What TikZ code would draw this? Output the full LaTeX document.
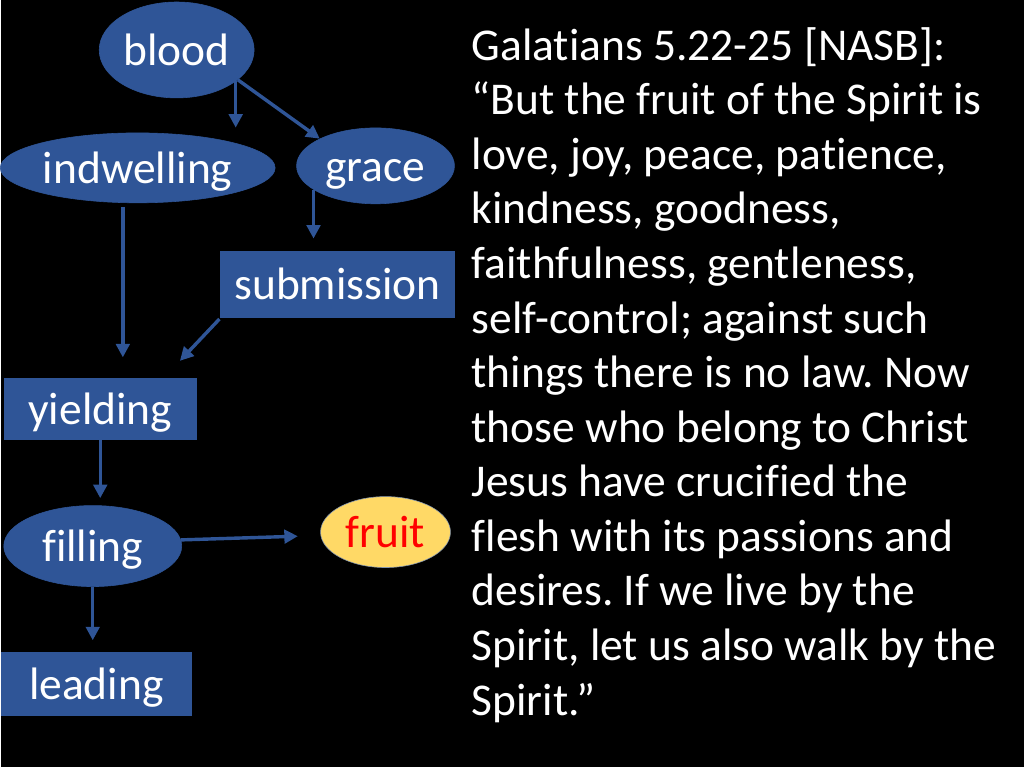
\documentclass[tikz,border=0pt]{standalone}
\usepackage{fontspec}
\setmainfont{Carlito}[Ligatures={TeX,NoCommon}, Contextuals=NoAlternate]
\usepackage{xcolor}
\usetikzlibrary{arrows.meta,shapes,calc,positioning}
\definecolor{nodeblue}{HTML}{2F5597}
\definecolor{fruitgold}{HTML}{FFD966}
\definecolor{fruitedge}{HTML}{8497B0}
\frenchspacing

\begin{document}
\begin{tikzpicture}[x=0.703125pt, y=-0.703125pt]
	\tikzstyle{every node}=[font=\fontsize{32}{38.4}\selectfont, text=white, inner sep=0pt]
	\tikzstyle{oval}=[ellipse, fill=nodeblue, draw=nodeblue, text height=28pt, text depth=6pt]
	\tikzstyle{box}=[rectangle, fill=nodeblue, draw=nodeblue, text height=28pt, text depth=6pt]
	\tikzstyle{link}=[line width=2.4pt, draw=nodeblue, -{Triangle[length=9.5pt, width=9.5pt]}]
	\fill [black] (0,0) rectangle (1024,768);
	% left side: the chain
	\node (blood) [oval, minimum width=109pt, minimum height=67.5pt] at (176,50) {blood};
	\node (indwelling) [oval, minimum width=193.4pt, minimum height=49.2pt] at (137,168) {indwelling};
	\node (grace) [oval, minimum width=111.1pt, minimum height=53.4pt] at (375,166) {grace};
	\node (submission) [box, minimum width=164.5pt, minimum height=47.1pt] at (337,284.5) {submission};
	\node (yielding) [box, minimum width=135.7pt, minimum height=42.9pt] at (99.5,409.5) {yielding};
	\node (filling) [oval, minimum width=125.2pt, minimum height=57pt] at (92,546.5) {filling};
	\node (fruit) [ellipse, fill=fruitgold, draw=fruitedge, text=red, text height=28pt, text depth=6pt, minimum width=91.4pt, minimum height=49.9pt] at (385,532.5) {fruit};
	\node (leading) [box, minimum width=134.3pt, minimum height=44.3pt] at (95.5,684.5) {leading};
	\draw [link, shorten >=3.5pt] (blood.-28) -- (blood.-28 |- indwelling.north);
	\draw [link] (blood.-26) -- (grace.154);
	\draw [link, shorten >=8.4pt] (grace.201) -- (grace.201 |- submission.north);
	\draw [link, shorten <=2.8pt, shorten >=14.8pt] (indwelling.-113) -- (indwelling.-113 |- yielding.north);
	\draw [link, shorten <=1pt, shorten >=17pt] (submission.south west) -- (yielding.26);
	\draw [link, shorten >=5pt] (yielding.south) -- (yielding.south |- filling.north);
	\draw [link, shorten >=16pt] (filling.4) -- (fruit.183);
	\draw [link, shorten >=8.4pt] (filling.south) -- (filling.south |- leading.north);
	% right side: the verse
	\node (verse) [anchor=north west, align=left] at (471,17.3) {\rule{0pt}{30pt}Galatians 5.22-25 [NASB]:\\
		“But the fruit of the Spirit is\\
		love, joy, peace, patience,\\
		kindness, goodness,\\
		faithfulness, gentleness,\\
		self-control; against such\\
		things there is no law. Now\\
		those who belong to Christ\\
		Jesus have crucified the\\
		flesh with its passions and\\
		desires. If we live by the\\
		Spirit, let us also walk by the\\
		Spirit.”};
\end{tikzpicture}
\end{document}
